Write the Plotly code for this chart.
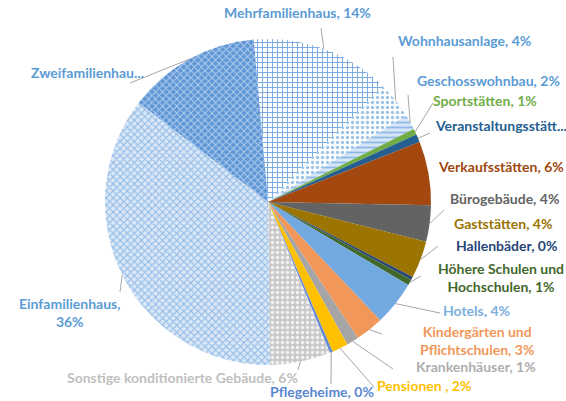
import math
import plotly.graph_objects as go

# ---------------- data ----------------
categories = [
    "Mehrfamilienhaus", "Wohnhausanlage", "Geschosswohnbau", "Sportstätten",
    "Veranstaltungsstätten", "Verkaufsstätten", "Bürogebäude", "Gaststätten",
    "Hallenbäder", "Höhere Schulen und Hochschulen", "Hotels",
    "Kindergärten und Pflichtschulen", "Krankenhäuser", "Pensionen",
    "Pflegeheime", "Sonstige konditionierte Gebäude", "Einfamilienhaus",
    "Zweifamilienhaus",
]
shares = [13.9, 3.6, 1.5, 0.6, 0.8, 6.3, 3.6, 3.7, 0.3, 0.6, 4.4, 2.8,
          1.2, 1.6, 0.3, 6.0, 35.6, 13.2]
label_texts = [
    "Mehrfamilienhaus, 14%", "Wohnhausanlage, 4%", "Geschosswohnbau, 2%",
    "Sportstätten, 1%", "Veranstaltungsstätt...", "Verkaufsstätten, 6%",
    "Bürogebäude, 4%", "Gaststätten, 4%", "Hallenbäder, 0%",
    "Höhere Schulen und<br>Hochschulen, 1%", "Hotels, 4%",
    "Kindergärten und<br>Pflichtschulen, 3%", "Krankenhäuser, 1%",
    "Pensionen , 2%", "Pflegeheime, 0%", "Sonstige konditionierte Gebäude, 6%",
    "Einfamilienhaus,<br>36%", "Zweifamilienhau...",
]

# ---------------- styles ----------------
slice_bg = ["#FFFFFF", "#FFFFFF", "#D6E6F6", "#70AD47", "#255E91", "#A3480E",
            "#636363", "#9C7400", "#264478", "#43682B", "#72A9E0", "#F1975A",
            "#A5A5A5", "#FFC000", "#6389D8", "#C9C9C9", "#D9E7F6", "#6096D6"]
slice_fg = ["#7AAAE0", "#9DC3E6", "#8DB8E6", "#70AD47", "#255E91", "#A3480E",
            "#636363", "#9C7400", "#264478", "#43682B", "#72A9E0", "#F1975A",
            "#A5A5A5", "#FFC000", "#6389D8", "#F2F2F2", "#8CB7E5", "#B3D0F0"]
slice_shape = ["+", ".", "-", "", "", "", "", "", "", "", "", "", "", "", "",
               ".", "x", "x"]
text_colors = ["#5B9BD5", "#5B9BD5", "#5B9BD5", "#70AD47", "#255E91", "#9E480E",
               "#636363", "#997300", "#264478", "#43682B", "#7CAFDD", "#F1975A",
               "#ADADAD", "#FFC000", "#5A86D0", "#BFBFBF", "#5B9BD5", "#5B9BD5"]
# label centre positions in pixels (x, y from top) and anchor
label_pos = [(297, 13), (464, 41), (488, 80), (485, 100), (433, 126), (501, 166),
             (504, 198), (503, 223), (506, 245), (501, 277), (476, 310),
             (477, 340), (476, 366), (424, 385), (322, 391), (182, 377),
             (69, 312), (87, 72)]
label_anchor = ["center"] * 18
label_anchor[4] = "left"
# outer end of leader lines (None = no leader)
leader_from = [(321, 28), (393, 57), (408, 95), (433, 103), (430, 133), None,
               (444, 210), (438, 246), None, (421, 276), (440, 313),
               (382, 334), (393, 369), (374, 387), (331, 384), (298, 370),
               (120, 292), (130, 83)]

W, H = 566, 401
CX, CY, R = 268, 202, 163
ROT = -5

fig = go.Figure(go.Pie(
    labels=categories,
    values=shares,
    sort=False,
    direction="clockwise",
    rotation=ROT,
    textinfo="none",
    hoverinfo="label+percent",
    showlegend=False,
    marker=dict(
        colors=slice_bg,
        line=dict(width=0),
        pattern=dict(shape=slice_shape, fgcolor=slice_fg, bgcolor=slice_bg,
                     size=5, solidity=0.35, fillmode="replace"),
    ),
    domain=dict(x=[(CX - R) / W, (CX + R) / W],
                y=[1 - (CY + R) / H, 1 - (CY - R) / H]),
))

annotations = []
shapes = []
total = sum(shares)
cum = 0.0
for i, v in enumerate(shares):
    mid = ROT + (cum + v / 2) / total * 360
    cum += v
    px, py = label_pos[i]
    annotations.append(dict(
        x=px / W, y=1 - py / H, xref="paper", yref="paper",
        text="<b>" + label_texts[i] + "</b>", showarrow=False,
        xanchor=label_anchor[i], yanchor="middle", align="center",
        font=dict(family="Lato", size=14, color=text_colors[i]),
    ))
    if leader_from[i] is not None:
        a = math.radians(mid)
        ex, ey = CX + R * math.sin(a), CY - R * math.cos(a)
        lx, ly = leader_from[i]
        shapes.append(dict(type="line", xref="paper", yref="paper",
                           x0=lx / W, y0=1 - ly / H, x1=ex / W, y1=1 - ey / H,
                           line=dict(color="#A6A6A6", width=1)))

fig.update_layout(
    width=W, height=H,
    margin=dict(l=0, r=0, t=0, b=0),
    paper_bgcolor="white", plot_bgcolor="white",
    annotations=annotations, shapes=shapes,
)

fig.write_html("out.html", config={"displayModeBar": False},
               post_script="document.body.style.margin='0';")
